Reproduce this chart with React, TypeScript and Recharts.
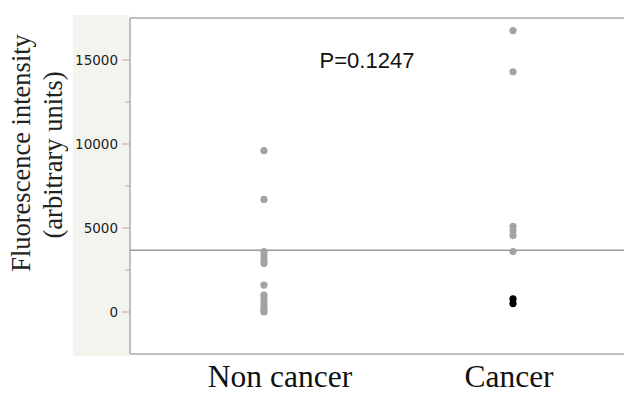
import React from "react";
import { ScatterChart, Scatter, XAxis, YAxis, ReferenceLine } from "recharts";

const categories = ["Non cancer", "Cancer"];
const nonCancerValues = [9600, 6700, 3600, 3350, 3100, 2900, 1600, 1000, 750, 500, 300, 100, 0];
const cancerValues = [16750, 14300, 5100, 4850, 4550, 3600];
const cancerHighlightValues = [780, 500];
const yTicks = [0, 2500, 5000, 7500, 10000, 12500, 15000];
const yLabelTicks = [0, 5000, 10000, 15000];
const meanValue = 3680;
const pValueText = "P=0.1247";
const yTitleLines = ["Fluorescence intensity", "(arbitrary units)"];

const nonCancerData = nonCancerValues.map((v) => ({ x: 1, y: v }));
const cancerData = cancerValues.map((v) => ({ x: 2, y: v }));
const cancerHighlightData = cancerHighlightValues.map((v) => ({ x: 2, y: v }));

const AXIS = "#ababab";
const DOT = "#a3a3a3";
const LABEL_OFFSETS = [16, -4];

const YTick = (props: any) => {
  const { y, payload } = props;
  const major = yLabelTicks.includes(payload.value);
  const ax = 130;
  return (
    <g>
      <line x1={ax - (major ? 8 : 5)} x2={ax} y1={y} y2={y} stroke={AXIS} strokeWidth={1} />
      {major && (
        <text
          x={ax - 12}
          y={y}
          dy="0.36em"
          textAnchor="end"
          fontFamily="DejaVu Sans"
          fontSize={13.5}
          fill="#1e1e1e"
        >
          {payload.value}
        </text>
      )}
    </g>
  );
};

const XTick = (props: any) => {
  const { x, payload } = props;
  const idx = payload.value - 1;
  return (
    <text
      x={x + LABEL_OFFSETS[idx]}
      y={387}
      textAnchor="middle"
      fontFamily="Liberation Serif"
      fontSize={31.5}
      fill="#111"
    >
      {categories[idx]}
    </text>
  );
};

const dot = (color: string) => (p: any) => <circle cx={p.cx} cy={p.cy} r={3.6} fill={color} />;

export default function App() {
  return (
    <div style={{ position: "absolute", left: 0, top: 0, width: 624, height: 394, background: "#fff", overflow: "hidden" }}>
      <div
        style={{
          position: "absolute",
          left: 73,
          top: 15,
          width: 57,
          height: 341,
          background: "#f4f4ef",
        }}
      />
      <div style={{ position: "absolute", left: 0, top: 0 }}>
        <ScatterChart width={646} height={394} margin={{ top: 18, right: 0, bottom: 0, left: 73 }}>
          <XAxis
            type="number"
            dataKey="x"
            domain={[0.462, 2.534]}
            ticks={[1, 2]}
            allowDataOverflow
            height={40}
            axisLine={{ stroke: AXIS, strokeWidth: 1.5 }}
            tickLine={false}
            tick={<XTick />}
          />
          <YAxis
            type="number"
            dataKey="y"
            domain={[-2500, 17500]}
            ticks={yTicks}
            allowDataOverflow
            width={57}
            axisLine={{ stroke: AXIS, strokeWidth: 1.5 }}
            tickLine={false}
            tick={<YTick />}
          />
          <ReferenceLine y={17500} stroke={AXIS} strokeWidth={1.5} />
          <ReferenceLine y={meanValue} stroke="#9a9a9a" strokeWidth={1.5} />
          <Scatter data={nonCancerData} fill={DOT} shape={dot(DOT)} isAnimationActive={false} />
          <Scatter data={cancerData} fill={DOT} shape={dot(DOT)} isAnimationActive={false} />
          <Scatter data={cancerHighlightData} fill="#000" shape={dot("#000")} isAnimationActive={false} />
          <text x={367} y={68} textAnchor="middle" fontFamily="Liberation Sans" fontSize={22} fill="#111">
            {pValueText}
          </text>
          <text
            transform="translate(30,153) rotate(-90)"
            textAnchor="middle"
            fontFamily="Liberation Serif"
            fontSize={26.5}
            fill="#222"
          >
            {yTitleLines[0]}
          </text>
          <text
            transform="translate(62,155) rotate(-90)"
            textAnchor="middle"
            fontFamily="Liberation Serif"
            fontSize={26.5}
            fill="#222"
          >
            {yTitleLines[1]}
          </text>
        </ScatterChart>
      </div>
    </div>
  );
}
